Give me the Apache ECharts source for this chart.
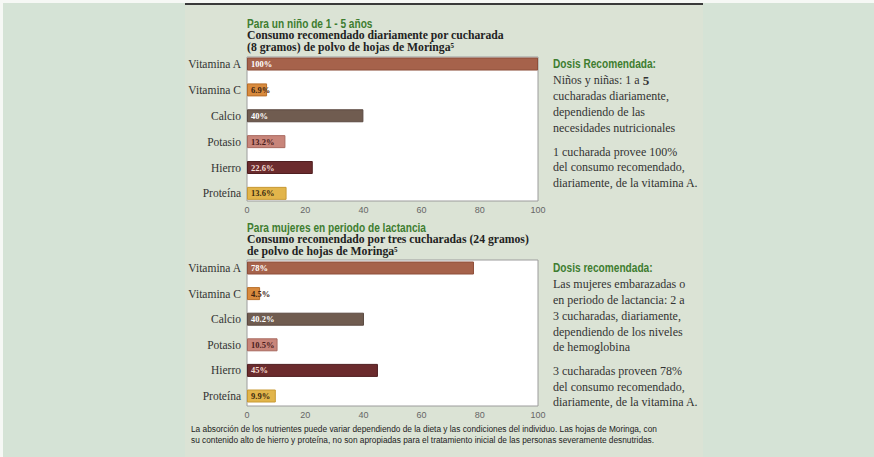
<!DOCTYPE html>
<html><head><meta charset="utf-8">
<script src="https://cdn.jsdelivr.net/npm/echarts@6/dist/echarts.min.js"></script>
<style>html,body{margin:0;padding:0;background:#d5e3d6}#c{width:874px;height:457px}</style>
</head><body><div id="c"></div>
<script>
const categories = ['Vitamina A', 'Vitamina C', 'Calcio', 'Potasio', 'Hierro', 'Proteína'];
const ninoValues = [100, 6.9, 40, 13.2, 22.6, 13.6];
const mujerValues = [78, 4.5, 40.2, 10.5, 45, 9.9];
const xTicks = [0, 20, 40, 60, 80, 100];
const barColors = ['#a6624b', '#d98b3e', '#705c50', '#c8857a', '#6b2b2d', '#e2b54b'];
const barBorders = ['#8e4f3a', '#b86f2a', '#5a4940', '#a86a60', '#4f1e20', '#c89a35'];
const labelColors = ['#ffffff', '#3b2412', '#ffffff', '#4a1c1c', '#f3dcd4', '#3b2a10'];

const serif = '"Liberation Serif", "DejaVu Serif", serif';
const sans = '"Liberation Sans", Arial, sans-serif';

function barData(vals) {
  return vals.map((v, i) => ({
    value: v,
    itemStyle: { color: barColors[i], borderColor: barBorders[i], borderWidth: 1 },
    label: { color: labelColors[i] }
  }));
}

const boxes = [{ top: 57, height: 144 }, { top: 260, height: 146 }];
const bars = [{ top: 51.1, height: 155.2 }, { top: 255.2, height: 153.6 }];
const L = 247, W = 291;

const grid = [], xAxis = [], yAxis = [], series = [];
boxes.forEach((b) => {
  grid.push({ left: L, width: W, top: b.top, height: b.height, show: true, backgroundColor: '#ffffff', borderColor: '#9c9c9c', borderWidth: 1, z: 1 });
});
bars.forEach((b) => {
  grid.push({ left: L, width: W, top: b.top, height: b.height, z: 3 });
});
for (let k = 0; k < 2; k++) {
  xAxis.push({ gridIndex: k, type: 'value', min: xTicks[0], max: xTicks[xTicks.length - 1], interval: xTicks[1] - xTicks[0],
    axisLine: { show: false }, axisTick: { show: false }, splitLine: { show: false },
    axisLabel: { show: true, margin: 4, color: '#666', fontSize: 9, fontFamily: sans } });
  yAxis.push({ gridIndex: k, type: 'value', show: false });
}
for (let k = 0; k < 2; k++) {
  xAxis.push({ gridIndex: k + 2, type: 'value', min: xTicks[0], max: xTicks[xTicks.length - 1], show: false, splitLine: { show: false } });
  yAxis.push({ gridIndex: k + 2, type: 'category', data: categories, inverse: true,
    axisLine: { show: false }, axisTick: { show: false },
    axisLabel: { margin: 6, color: '#333', fontSize: 11.5, fontFamily: serif } });
}
[ninoValues, mujerValues].forEach((vals, k) => {
  series.push({ type: 'bar', xAxisIndex: k + 2, yAxisIndex: k + 2, barWidth: 13, z: 4,
    data: barData(vals),
    label: { show: true, position: 'insideLeft', distance: 4, fontSize: 8.5, fontWeight: 'bold', fontFamily: serif,
      formatter: p => p.value + '%' } });
});

function txt(x, y, text, font, fill, extra, sx) {
  return { type: 'text', x: x, y: y, z: 10, scaleX: sx || 1,
    style: Object.assign({ text: text, font: font, fill: fill, textVerticalAlign: 'middle' }, extra || {}) };
}
const green = '#3e7d30';
const titleG = 'bold 12px ' + sans;
const titleB = 'bold 11.7px ' + serif;
const body = '12px ' + serif;
const dark = '#333';
const foot = '8.3px ' + sans;

const graphic = [
  { type: 'rect', z: -5, shape: { x: 185, y: 0, width: 518, height: 457 }, style: { fill: '#dbe3d5' } },
  { type: 'rect', z: -4, shape: { x: 0, y: 0, width: 874, height: 3 }, style: { fill: '#f6f8f5' } },
  { type: 'rect', z: -4, shape: { x: 0, y: 0, width: 3, height: 457 }, style: { fill: '#f6f8f5' } },
  { type: 'rect', z: -3, shape: { x: 185, y: 3, width: 518, height: 2 }, style: { fill: '#3a3a3a' } },
  txt(247, 23.5, 'Para un niño de 1 - 5 años', titleG, green, null, 0.845),
  txt(247, 35.5, 'Consumo recomendado diariamente por cucharada', titleB, '#222'),
  txt(247, 47, '(8 gramos) de polvo de hojas de Moringa⁵', titleB, '#222'),
  txt(247, 227.5, 'Para mujeres en periodo de lactancia', titleG, green, null, 0.845),
  txt(247, 239.5, 'Consumo recomendado por tres cucharadas (24 gramos)', titleB, '#222'),
  txt(247, 251, 'de polvo de hojas de Moringa⁵', titleB, '#222'),
  txt(553, 64, 'Dosis Recomendada:', titleG, green, null, 0.845),
  txt(553, 80, 'Niños y niñas: 1 a {b|5}', body, dark, { rich: { b: { font: 'bold 13px ' + serif, fill: dark } } }),
  txt(553, 96, 'cucharadas diariamente,', body, dark),
  txt(553, 112, 'dependiendo de las', body, dark),
  txt(553, 127.5, 'necesidades nutricionales', body, dark),
  txt(553, 151.5, '1 cucharada provee 100%', body, dark),
  txt(553, 167, 'del consumo recomendado,', body, dark),
  txt(553, 182.5, 'diariamente, de la vitamina A.', body, dark),
  txt(553, 268, 'Dosis recomendada:', titleG, green, null, 0.845),
  txt(553, 284, 'Las mujeres embarazadas o', body, dark),
  txt(553, 300, 'en periodo de lactancia: 2 a', body, dark),
  txt(553, 316, '3 cucharadas, diariamente,', body, dark),
  txt(553, 331.5, 'dependiendo de los niveles', body, dark),
  txt(553, 347, 'de hemoglobina', body, dark),
  txt(553, 371, '3 cucharadas proveen 78%', body, dark),
  txt(553, 386.5, 'del consumo recomendado,', body, dark),
  txt(553, 401.5, 'diariamente, de la vitamina A.', body, dark),
  txt(191, 429, 'La absorción de los nutrientes puede variar dependiendo de la dieta y las condiciones del individuo. Las hojas de Moringa, con', foot, '#222'),
  txt(191, 440, 'su contenido alto de hierro y proteína, no son apropiadas para el tratamiento inicial de las personas severamente desnutridas.', foot, '#222')
];

const chart = echarts.init(document.getElementById('c'), null, { renderer: 'svg' });
chart.setOption({
  backgroundColor: '#d5e3d6',
  animation: false,
  grid: grid, xAxis: xAxis, yAxis: yAxis, series: series, graphic: graphic
});
</script></body></html>
